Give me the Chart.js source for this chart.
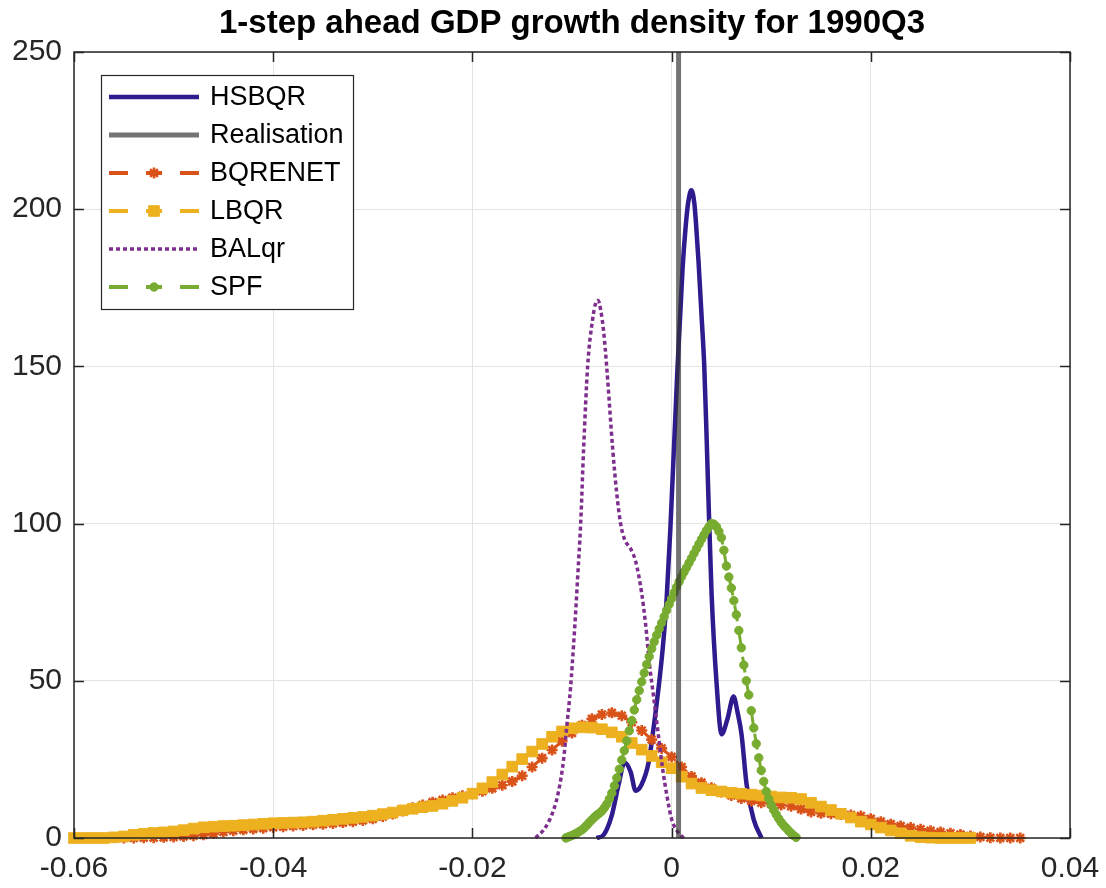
<!DOCTYPE html>
<html>
<head>
<meta charset="utf-8">
<script src="https://cdn.jsdelivr.net/npm/chart.js@4.4.1/dist/chart.umd.min.js"></script>
<style>
  html, body { margin: 0; padding: 0; background: #fff; }
  #wrap { width: 1106px; height: 888px; }
</style>
</head>
<body>
<div id="wrap"><canvas id="densityChart" width="1106" height="888"></canvas></div>
<script>
// axis ticks
const xTicks = [-0.06, -0.04, -0.02, 0, 0.02, 0.04];
const xTickLabels = ['-0.06', '-0.04', '-0.02', '0', '0.02', '0.04'];
const yTicks = [0, 50, 100, 150, 200, 250];

// HSBQR (solid)
const hsbqrX = [-0.00753, -0.00682, -0.00602, -0.00532, -0.00472, -0.00411, -0.00361, -0.00301, -0.00231, -0.00181,
  -0.0013, -0.0009, -0.0005, -0.00013, 0.0006, 0.0011, 0.0014, 0.00166, 0.00198, 0.00228, 0.00244,
  0.00271, 0.00301, 0.00328, 0.00351, 0.00371, 0.00401, 0.00452, 0.00502, 0.00562, 0.00622, 0.00662, 0.00702,
  0.00753, 0.00823, 0.00903];
const hsbqrY = [0, 1, 7, 17, 24, 21, 15, 17, 24, 35,
  48, 60, 76, 98, 150, 181, 194, 202, 206, 202, 196,
  183, 166, 150, 128, 107, 78, 49, 33, 38, 45, 40, 33,
  17, 6, 0];

// Realisation (vertical line)
const realX = [0.0007, 0.0007];
const realY = [0, 250];

// BQRENET
const bqrenetX = [-0.055, -0.054, -0.053, -0.052, -0.051, -0.050, -0.049, -0.048, -0.047, -0.046, -0.045, -0.044,
  -0.043, -0.042, -0.041, -0.040, -0.039, -0.038, -0.037, -0.036, -0.035, -0.034, -0.033, -0.032, -0.031, -0.030,
  -0.029, -0.028, -0.027, -0.026, -0.025, -0.024, -0.023, -0.022, -0.021, -0.020, -0.019, -0.018, -0.017, -0.016,
  -0.015, -0.014, -0.013, -0.012, -0.011, -0.010, -0.009, -0.008, -0.007, -0.006, -0.005, -0.004, -0.003, -0.002,
  -0.001, 0, 0.001, 0.002, 0.003, 0.004, 0.005, 0.006, 0.007, 0.008, 0.009, 0.010, 0.011, 0.012, 0.013, 0.014,
  0.015, 0.016, 0.017, 0.018, 0.019, 0.020, 0.021, 0.022, 0.023, 0.024, 0.025, 0.026, 0.027, 0.028, 0.029, 0.030,
  0.031, 0.032, 0.033, 0.034, 0.035];
const bqrenetY = [0, 0, 0.1, 0.1, 0.2, 0.3, 0.5, 0.7, 1, 1.4, 1.9, 2.3,
  2.6, 2.9, 3.1, 3.4, 3.6, 3.8, 4, 4.2, 4.4, 4.6, 4.9, 5.2, 5.6, 6.1,
  6.8, 7.6, 8.6, 9.6, 10.5, 11.4, 12.1, 12.8, 13.4, 14.1, 14.9, 15.8, 16.8, 18,
  19.8, 22.6, 25.4, 28, 30.8, 33.4, 35.9, 37.9, 39.3, 39.8, 38.9, 36.8, 34.2, 31.3,
  28.5, 25.8, 22.6, 19.6, 17.6, 16, 14.6, 13.5, 12.6, 11.8, 11.2, 10.8, 10.5, 10.1, 9.2, 8.3,
  7.9, 7.7, 7.5, 7.3, 7, 6.1, 5.2, 4.4, 3.8, 3.3, 2.8, 2.3, 1.9, 1.5, 1.1, 0.6,
  0.3, 0.1, 0, 0, 0];

// LBQR
const lbqrX = [-0.060, -0.059, -0.058, -0.057, -0.056, -0.055, -0.054, -0.053, -0.052, -0.051, -0.050, -0.049,
  -0.048, -0.047, -0.046, -0.045, -0.044, -0.043, -0.042, -0.041, -0.040, -0.039, -0.038, -0.037, -0.036, -0.035,
  -0.034, -0.033, -0.032, -0.031, -0.030, -0.029, -0.028, -0.027, -0.026, -0.025, -0.024, -0.023, -0.022, -0.021,
  -0.020, -0.019, -0.018, -0.017, -0.016, -0.015, -0.014, -0.013, -0.012, -0.011, -0.010, -0.009, -0.008, -0.007,
  -0.006, -0.005, -0.004, -0.003, -0.002, -0.001, 0, 0.001, 0.002, 0.003, 0.004, 0.005, 0.006, 0.007, 0.008,
  0.009, 0.010, 0.011, 0.012, 0.013, 0.014, 0.015, 0.016, 0.017, 0.018, 0.019, 0.020, 0.021, 0.022, 0.023,
  0.024, 0.025, 0.026, 0.027, 0.028, 0.029, 0.030];
const lbqrY = [0, 0, 0, 0, 0.2, 0.5, 1, 1.3, 1.6, 1.8, 2.1, 2.5,
  3, 3.4, 3.6, 3.8, 3.9, 4.1, 4.3, 4.5, 4.7, 4.8, 4.9, 5, 5.2, 5.5,
  5.8, 6.1, 6.4, 6.7, 7.1, 7.6, 8.1, 8.8, 9.3, 9.8, 10.2, 10.9, 11.8, 12.8,
  14.1, 15.8, 17.8, 20.2, 22.7, 25.1, 27.5, 29.9, 32.2, 33.9, 34.9, 35.2, 35.1, 34.6,
  33.6, 32.2, 30.2, 28.1, 26.1, 24.1, 22.2, 19.5, 17.3, 15.9, 15.2, 14.8, 14.4, 14.1, 13.8,
  13.5, 13.2, 12.9, 12.8, 12.4, 11.2, 10, 8.9, 7.7, 6.5, 5.2, 4.3, 3.3, 2.4, 1.5,
  0.7, 0.3, 0.1, 0, 0, 0, 0];

// BALqr (dotted)
const balqrX = [-0.01365, -0.01264, -0.01184, -0.01134, -0.01084, -0.01054, -0.01014, -0.00983, -0.00963, -0.00943,
  -0.00913, -0.00883, -0.00843, -0.00793, -0.00763, -0.00739, -0.00712, -0.00682, -0.00652, -0.00592, -0.00552,
  -0.00512, -0.00472, -0.00411, -0.00361, -0.00301, -0.00261, -0.00221, -0.00181, -0.0013, -0.0009, -0.0005, 0,
  0.0005, 0.0012];
const balqrY = [0, 3.5, 9, 15, 25, 35, 48, 62, 72, 83,
  100, 124, 150, 165, 170, 171, 168, 161, 150, 124, 110,
  100, 95, 92, 88, 78, 68, 55, 45, 32, 22, 14, 6,
  2.5, 0];

// SPF
const spfX = [-0.0106, -0.01050, -0.01025, -0.01000, -0.00975, -0.00950, -0.00925, -0.00900, -0.00875, -0.00850,
  -0.00825, -0.00800, -0.00775, -0.00750, -0.00725, -0.00700, -0.00675, -0.00650, -0.00625, -0.00600, -0.00575,
  -0.00550, -0.00525, -0.00500, -0.00475, -0.00450, -0.00425, -0.00400, -0.00375, -0.00350, -0.00325, -0.00300,
  -0.00275, -0.00250, -0.00225, -0.00200, -0.00175, -0.00150, -0.00125, -0.00100, -0.00075, -0.00050, -0.00025,
  0, 0.00025, 0.00050, 0.00075, 0.00100, 0.00125, 0.00150, 0.00175, 0.00200, 0.00225, 0.00250, 0.00275, 0.00300,
  0.00325, 0.00350, 0.00375, 0.00400, 0.00425, 0.00450, 0.00475, 0.00500, 0.00525, 0.00550, 0.00575, 0.00600,
  0.00625, 0.00650, 0.00675, 0.00700, 0.00725, 0.00750, 0.00775, 0.00800, 0.00825, 0.00850, 0.00875, 0.00900,
  0.00925, 0.00950, 0.00975, 0.01000, 0.01025, 0.01050, 0.01075, 0.01100, 0.01125, 0.01150, 0.01175, 0.01200,
  0.01225, 0.01250];
const spfY = [0, 0.2, 0.5, 0.8, 1.2, 1.6, 2.1, 2.6, 3.3, 4.1,
  5.0, 5.8, 6.6, 7.3, 7.9, 8.6, 9.6, 10.8, 12.4, 14.3, 16.6,
  19.1, 21.9, 24.8, 27.8, 30.9, 34.1, 37.3, 40.7, 44.0, 46.9, 49.7,
  52.5, 55.2, 57.7, 60.2, 62.4, 64.5, 66.5, 68.4, 70.4, 72.4, 74.3,
  76.1, 78.0, 79.8, 81.5, 83.1, 84.6, 86.0, 87.5, 89.0, 90.5, 92.0, 93.5, 95.0,
  96.4, 97.8, 99.0, 100.0, 99.8, 99.0, 97.5, 95.5, 91.5, 86.5, 83.0, 79.5,
  75.5, 71.0, 66.0, 60.5, 55.0, 50.0, 45.5, 40.5, 35.0, 30.0, 25.5, 21.5,
  18.0, 14.8, 12.5, 10.5, 8.9, 7.5, 6.2, 5.0, 4.0, 3.2, 2.3, 1.5,
  0.8, 0.2];

const toPoints = (xs, ys) => xs.map((x, i) => ({ x: x, y: ys[i] }));

const FONT = "'Liberation Sans', Arial, Helvetica, sans-serif";
const AXIS_COLOR = '#262626';

// frame round the axes with inward ticks, like the original
const axesBox = {
  id: 'axesBox',
  afterDatasetsDraw(chart) {
    const { ctx, chartArea: a, scales } = chart;
    ctx.save();
    ctx.strokeStyle = AXIS_COLOR;
    ctx.lineWidth = 1.5;
    ctx.beginPath();
    scales.x.ticks.forEach(t => {
      const px = Math.round(scales.x.getPixelForValue(t.value)) + 0.5;
      ctx.moveTo(px, a.bottom); ctx.lineTo(px, a.bottom - 10);
      ctx.moveTo(px, a.top); ctx.lineTo(px, a.top + 10);
    });
    scales.y.ticks.forEach(t => {
      const py = Math.round(scales.y.getPixelForValue(t.value)) + 0.5;
      ctx.moveTo(a.left, py); ctx.lineTo(a.left + 10, py);
      ctx.moveTo(a.right, py); ctx.lineTo(a.right - 10, py);
    });
    ctx.stroke();
    ctx.strokeRect(a.left, a.top, a.right - a.left, a.bottom - a.top);
    ctx.restore();
  }
};

// boxed legend in the upper left corner
const legendBox = {
  id: 'legendBox',
  afterDraw(chart) {
    const ctx = chart.ctx;
    const left = 101, top = 75, w = 252, h = 234;
    ctx.save();
    ctx.fillStyle = '#fff';
    ctx.fillRect(left, top, w, h);
    ctx.strokeStyle = AXIS_COLOR;
    ctx.lineWidth = 1.2;
    ctx.strokeRect(left + 0.5, top + 0.5, w, h);
    ctx.font = '27px ' + FONT;
    ctx.textBaseline = 'middle';
    chart.data.datasets.forEach((ds, i) => {
      const y = 97 + i * 38;
      const x0 = 109, x1 = 199, xm = 154;
      ctx.strokeStyle = ds.borderColor;
      ctx.lineWidth = ds.pointRadius > 0 ? 4 : ds.borderWidth;
      ctx.lineCap = 'butt';
      ctx.beginPath();
      if (ds.pointRadius > 0) {
        ctx.setLineDash([]);
        ctx.moveTo(x0, y); ctx.lineTo(x0 + 19, y);
        ctx.moveTo(x1 - 19, y); ctx.lineTo(x1, y);
        ctx.moveTo(xm - 8, y); ctx.lineTo(xm + 8, y);
      } else {
        ctx.setLineDash(ds.borderDash || []);
        ctx.moveTo(x0, y); ctx.lineTo(x1, y);
      }
      ctx.stroke();
      ctx.setLineDash([]);
      if (ds.pointRadius > 0) {
        ctx.fillStyle = ds.pointBackgroundColor;
        ctx.strokeStyle = ds.pointBorderColor;
        ctx.lineWidth = ds.pointBorderWidth;
        Chart.helpers.drawPoint(ctx, {
          pointStyle: ds.pointStyle, radius: ds.pointRadius, rotation: 0, borderWidth: ds.pointBorderWidth
        }, xm, y);
      }
      ctx.fillStyle = '#000';
      ctx.fillText(ds.label, 210, y + 1);
    });
    ctx.restore();
  }
};

const ctx = document.getElementById('densityChart');
new Chart(ctx, {
  type: 'line',
  data: {
    datasets: [
      {
        label: 'HSBQR',
        data: toPoints(hsbqrX, hsbqrY),
        borderColor: '#2f1a8e',
        borderWidth: 4.5,
        pointRadius: 0,
        cubicInterpolationMode: 'monotone',
        order: 6
      },
      {
        label: 'Realisation',
        data: toPoints(realX, realY),
        borderColor: 'rgba(50, 50, 50, 0.68)',
        borderWidth: 5,
        pointRadius: 0,
        order: 0
      },
      {
        label: 'BQRENET',
        data: toPoints(bqrenetX, bqrenetY),
        borderColor: '#D95319',
        borderWidth: 3,
        borderDash: [16, 10],
        pointStyle: 'star',
        pointRadius: 5.5,
        pointBorderWidth: 2.6,
        pointBackgroundColor: '#D95319',
        pointBorderColor: '#D95319',
        order: 5
      },
      {
        label: 'LBQR',
        data: toPoints(lbqrX, lbqrY),
        borderColor: '#EDB120',
        borderWidth: 3,
        borderDash: [16, 10],
        pointStyle: 'rect',
        pointRadius: 7.5,
        pointBorderWidth: 1,
        pointBackgroundColor: '#EDB120',
        pointBorderColor: '#EDB120',
        order: 4
      },
      {
        label: 'BALqr',
        data: toPoints(balqrX, balqrY),
        borderColor: '#7E2F8E',
        borderWidth: 3.5,
        borderDash: [4, 3],
        pointRadius: 0,
        cubicInterpolationMode: 'monotone',
        order: 3
      },
      {
        label: 'SPF',
        data: toPoints(spfX, spfY),
        borderColor: '#77AC30',
        borderWidth: 3,
        borderDash: [16, 10],
        pointStyle: 'circle',
        pointRadius: 4.2,
        pointBorderWidth: 1,
        pointBackgroundColor: '#77AC30',
        pointBorderColor: '#77AC30',
        order: 2
      }
    ]
  },
  options: {
    responsive: false,
    animation: false,
    clip: false,
    layout: { autoPadding: false, padding: { left: 0, right: 36, top: 0, bottom: 0 } },
    elements: { line: { tension: 0 }, point: { hoverRadius: 0 } },
    plugins: {
      legend: { display: false },
      tooltip: { enabled: false },
      title: {
        display: true,
        fullSize: false,
        text: '1-step ahead GDP growth density for 1990Q3',
        color: '#000',
        font: { family: FONT, size: 33, weight: 'bold' },
        padding: { top: 4, bottom: 8.4 }
      }
    },
    scales: {
      x: {
        type: 'linear',
        min: -0.06,
        max: 0.04,
        afterBuildTicks: s => { s.ticks = xTicks.map(v => ({ value: v })); },
        afterFit: s => { s.height = 50; s.paddingLeft = 0; s.paddingRight = 0; },
        grid: { color: '#e3e3e3', lineWidth: 1, drawTicks: false },
        border: { display: false },
        ticks: {
          color: AXIS_COLOR,
          padding: 13,
          maxRotation: 0,
          font: { family: FONT, size: 30 },
          callback: (v, i) => xTickLabels[i]
        }
      },
      y: {
        min: 0,
        max: 250,
        afterBuildTicks: s => { s.ticks = yTicks.map(v => ({ value: v })); },
        afterFit: s => { s.width = 74; s.paddingTop = 0; s.paddingBottom = 0; },
        grid: { color: '#e3e3e3', lineWidth: 1, drawTicks: false },
        border: { display: false },
        ticks: {
          color: AXIS_COLOR,
          padding: 12,
          font: { family: FONT, size: 30 }
        }
      }
    }
  },
  plugins: [axesBox, legendBox]
});
</script>
</body>
</html>
